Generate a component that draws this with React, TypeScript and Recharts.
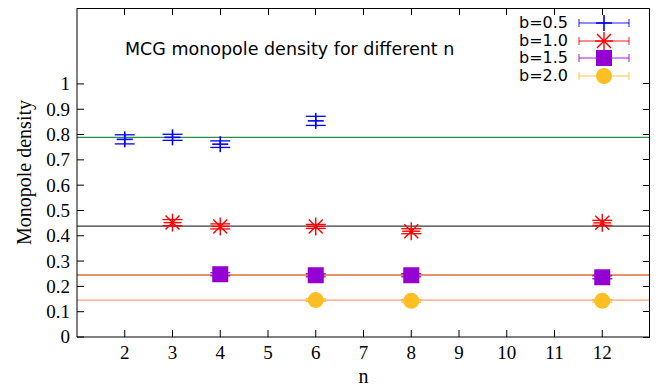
import { ComposedChart, Scatter, ErrorBar, XAxis, YAxis, ReferenceLine, Legend } from "recharts";

// axes
const xTicks = [2, 3, 4, 5, 6, 7, 8, 9, 10, 11, 12];
const yTicks = [0, 0.1, 0.2, 0.3, 0.4, 0.5, 0.6, 0.7, 0.8, 0.9, 1];
const xDomain = [1, 13];
const yDomain = [0, 1.3];

// b = 0.5
const nB05 = [2, 3, 4, 6];
const densityB05 = [0.781, 0.789, 0.762, 0.854];
const errB05 = [0.018, 0.012, 0.013, 0.018];

// b = 1.0
const nB10 = [3, 4, 6, 8, 12];
const densityB10 = [0.452, 0.437, 0.437, 0.418, 0.451];
const errB10 = [0.012, 0.01, 0.008, 0.01, 0.01];

// b = 1.5
const nB15 = [4, 6, 8, 12];
const densityB15 = [0.248, 0.244, 0.244, 0.236];
const errB15 = [0.006, 0.006, 0.006, 0.006];

// b = 2.0
const nB20 = [6, 8, 12];
const densityB20 = [0.146, 0.143, 0.143];
const errB20 = [0.005, 0.005, 0.005];

// horizontal fit levels
const fitLevels = [0.789, 0.438, 0.245, 0.146];
const fitColors = ["#2a8c4e", "#3a3a3a", "#dd6f3a", "#ff9f78"];

// chart geometry
const W = 662;
const H = 391;
const margin = { top: 8, right: 12, bottom: 0, left: 0 };
const yAxisWidth = 77;
const xAxisHeight = 54;
const TICK = 7;

const toRows = (ns: number[], vals: number[], errs: number[]) =>
  ns.map((n, i) => ({ n, v: vals[i], e: errs[i] }));

type MarkProps = { cx: number; cy: number; color: string };

const PlusMark = ({ cx, cy, color }: MarkProps) => (
  <g stroke={color} strokeWidth={1.6}>
    <line x1={cx - 8} y1={cy} x2={cx + 8} y2={cy} />
    <line x1={cx} y1={cy - 8} x2={cx} y2={cy + 8} />
  </g>
);

const StarMark = ({ cx, cy, color }: MarkProps) => (
  <g stroke={color} strokeWidth={1.4}>
    <line x1={cx - 9} y1={cy} x2={cx + 9} y2={cy} />
    <line x1={cx} y1={cy - 9} x2={cx} y2={cy + 9} />
    <line x1={cx - 7} y1={cy - 7} x2={cx + 7} y2={cy + 7} />
    <line x1={cx - 7} y1={cy + 7} x2={cx + 7} y2={cy - 7} />
  </g>
);

const SquareMark = ({ cx, cy, color }: MarkProps) => (
  <rect x={cx - 8} y={cy - 8} width={16} height={16} fill={color} />
);

const CircleMark = ({ cx, cy, color }: MarkProps) => <circle cx={cx} cy={cy} r={8} fill={color} />;

const series = [
  { name: "b=0.5", color: "#0000ff", Mark: PlusMark, data: toRows(nB05, densityB05, errB05) },
  { name: "b=1.0", color: "#ff0000", Mark: StarMark, data: toRows(nB10, densityB10, errB10) },
  { name: "b=1.5", color: "#9400d3", Mark: SquareMark, data: toRows(nB15, densityB15, errB15) },
  { name: "b=2.0", color: "#ffbe22", Mark: CircleMark, data: toRows(nB20, densityB20, errB20) },
];

const renderLegend = () => (
  <div style={{ fontFamily: "DejaVu Sans", fontSize: 16, color: "#000" }}>
    {series.map((s) => (
      <div key={s.name} style={{ display: "flex", alignItems: "center", height: 17.7 }}>
        <span style={{ width: 88, textAlign: "right", lineHeight: "17.7px" }}>{s.name}</span>
        <svg width={58} height={18} style={{ marginLeft: 8 }}>
          <g stroke={s.color} strokeOpacity={0.6} strokeWidth={1.5}>
            <line x1={3} y1={9} x2={53} y2={9} />
            <line x1={3} y1={5} x2={3} y2={13} />
            <line x1={53} y1={5} x2={53} y2={13} />
          </g>
          <s.Mark cx={28} cy={9} color={s.color} />
        </svg>
      </div>
    ))}
  </div>
);

const serif = "'Liberation Serif', 'Times New Roman', serif";

const XTick = (p: any) => (
  <text x={p.x} y={p.y} dy="0.71em" textAnchor="middle" fontFamily={serif} fontSize={19} fill="#000">
    {p.payload.value}
  </text>
);

const YTick = (p: any) => (
  <text x={p.x} y={p.y} dy="0.34em" textAnchor="end" fontFamily={serif} fontSize={19} fill="#000">
    {p.payload.value}
  </text>
);

const renderYLabel = (props: any) => {
  const { x, y, height } = props.viewBox;
  const lx = x + 31;
  const ly = y + height / 2;
  return (
    <text x={lx} y={ly} transform={`rotate(-90 ${lx} ${ly})`} textAnchor="middle"
      fontFamily={serif} fontSize={20} fill="#000">
      Monopole density
    </text>
  );
};

const renderXLabel = (props: any) => {
  const { x, y, width } = props.viewBox;
  return (
    <text x={x + width / 2} y={y + 46} textAnchor="middle" fontFamily={serif} fontSize={20} fill="#000">
      n
    </text>
  );
};

// gnuplot-style closed frame: top and right borders with mirrored ticks
const Frame = () => {
  const left = margin.left + yAxisWidth;
  const right = W - margin.right;
  const top = margin.top;
  const bottom = H - margin.bottom - xAxisHeight;
  const sx = (v: number) => left + ((v - xDomain[0]) / (xDomain[1] - xDomain[0])) * (right - left);
  const sy = (v: number) => bottom - ((v - yDomain[0]) / (yDomain[1] - yDomain[0])) * (bottom - top);
  return (
    <svg width={W} height={H} style={{ position: "absolute", left: 0, top: 0, pointerEvents: "none" }}>
      <g stroke="#000" strokeWidth={1} shapeRendering="crispEdges">
        <line x1={left} y1={top + 0.5} x2={right} y2={top + 0.5} />
        <line x1={right - 0.5} y1={top} x2={right - 0.5} y2={bottom} />
        {xTicks.map((t) => (
          <line key={`tx${t}`} x1={sx(t)} y1={top} x2={sx(t)} y2={top + TICK} />
        ))}
        {yTicks.map((t) => (
          <line key={`ty${t}`} x1={right} y1={sy(t)} x2={right - TICK} y2={sy(t)} />
        ))}
      </g>
    </svg>
  );
};

export default function App() {
  return (
    <div
      style={{
        position: "absolute",
        left: 0,
        top: 0,
        width: W,
        height: H,
        background: "#fff",
        fontFamily: serif,
      }}
    >
      <ComposedChart width={W} height={H} margin={margin}>
        <XAxis
          dataKey="n"
          type="number"
          domain={xDomain}
          ticks={xTicks}
          interval={0}
          height={xAxisHeight}
          tickSize={-TICK}
          tickMargin={16}
          tick={XTick}
          axisLine={{ stroke: "#000" }}
          tickLine={{ stroke: "#000" }}
          allowDataOverflow
          label={renderXLabel}
        />
        <YAxis
          type="number"
          domain={yDomain}
          ticks={yTicks}
          interval={0}
          width={yAxisWidth}
          tickSize={-TICK}
          tickMargin={14}
          tick={YTick}
          axisLine={{ stroke: "#000" }}
          tickLine={{ stroke: "#000" }}
          allowDataOverflow
          label={renderYLabel}
        />
        {fitLevels.map((lvl, i) => (
          <ReferenceLine key={`fit${i}`} y={lvl} stroke={fitColors[i]} strokeWidth={1.3} />
        ))}
        {series.map((s) => (
          <Scatter
            key={s.name}
            name={s.name}
            data={s.data}
            dataKey="v"
            fill={s.color}
            isAnimationActive={false}
            shape={(p: any) => <s.Mark cx={p.cx} cy={p.cy} color={s.color} />}
          >
            <ErrorBar dataKey="e" direction="y" width={10} stroke={s.color} strokeWidth={1.3} />
          </Scatter>
        ))}
        <Legend
          layout="vertical"
          align="center"
          verticalAlign="middle"
          content={renderLegend}
          wrapperStyle={{ left: 480, top: 14, width: 170 }}
        />
      </ComposedChart>
      <Frame />
      <div
        style={{
          position: "absolute",
          left: 125,
          top: 41,
          fontFamily: "DejaVu Sans",
          fontSize: 17.5,
          lineHeight: "17.5px",
          whiteSpace: "nowrap",
        }}
      >
        MCG monopole density for different n
      </div>
    </div>
  );
}
